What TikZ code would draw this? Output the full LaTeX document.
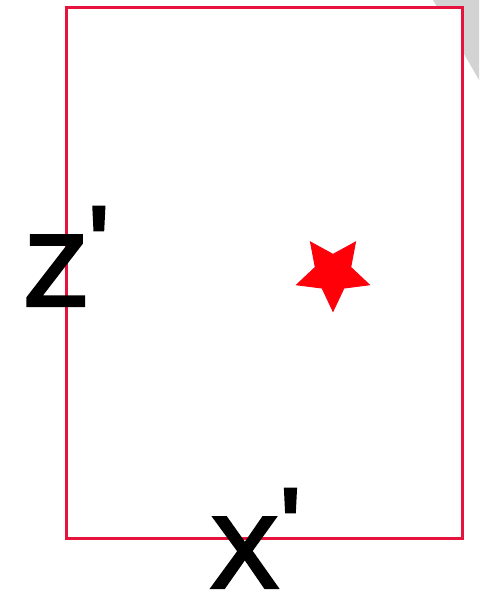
\documentclass[tikz,border=0pt]{standalone}
\usepackage{fontspec}
\usetikzlibrary{calc}
\font\labfont="Liberation Sans:embolden=4" at 100pt
\definecolor{frame}{RGB}{230,20,60}
\definecolor{starred}{RGB}{255,0,8}
\definecolor{cornergrey}{RGB}{211,211,211}
\tikzset{
  axislabel/.style={anchor=base west, inner sep=0pt, font=\labfont, text=black},
}
\newcommand{\primemark}{\kern3pt\raisebox{28.5pt}{\char"27}}
\begin{document}
\begin{tikzpicture}[x=1pt,y=-1pt]
\useasboundingbox (0,0) rectangle (479,601);
\fill[cornergrey] (433,0) -- (479,0) -- (479,80) -- cycle;
\draw[frame, line width=3pt, fill=white] (66.5,8) rectangle (462.5,538.5);
\coordinate (sc) at (333,273);
\draw[starred!80!frame, fill=starred, line width=1.2pt, line join=miter]
  ($(sc)+(90:38)$) -- ($(sc)+(126:18.5)$) -- ($(sc)+(162:38)$) -- ($(sc)+(198:18.5)$) --
  ($(sc)+(234:38)$) -- ($(sc)+(270:18.5)$) -- ($(sc)+(306:38)$) -- ($(sc)+(342:18.5)$) --
  ($(sc)+(18:38)$) -- ($(sc)+(54:18.5)$) -- cycle;
\node[axislabel] (zlab) at (25,305) {Z\primemark};
\node[axislabel] (xlab) at (211,587) {X\primemark};
\end{tikzpicture}
\end{document}
